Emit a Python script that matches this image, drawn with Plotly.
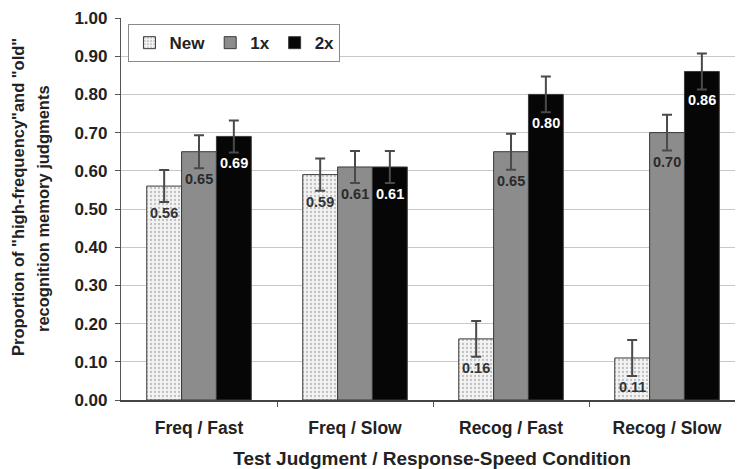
import plotly.graph_objects as go

categories = ["Freq / Fast", "Freq / Slow", "Recog / Fast", "Recog / Slow"]
series_names = ["New", "1x", "2x"]
new_vals = [0.56, 0.59, 0.16, 0.11]
x1_vals = [0.65, 0.61, 0.65, 0.70]
x2_vals = [0.69, 0.61, 0.80, 0.86]
new_err = [0.042, 0.042, 0.047, 0.047]
x1_err = [0.043, 0.042, 0.047, 0.047]
x2_err = [0.042, 0.042, 0.047, 0.047]
y_ticks = [0.0, 0.1, 0.2, 0.3, 0.4, 0.5, 0.6, 0.7, 0.8, 0.9, 1.0]
y_title_lines = ['Proportion of "high-frequency"and "old"', "recognition memory judgments"]
x_title = "Test Judgment / Response-Speed Condition"

FONT = "Liberation Sans, Arial, sans-serif"
TXT = "#222222"
BARGAP = 0.33

values = [new_vals, x1_vals, x2_vals]
errors = [new_err, x1_err, x2_err]
xpos = list(range(len(categories)))

fig = go.Figure()
styles = [
    dict(color="#f3f3f3", pattern=dict(shape=".", fgcolor="#8a8a8a", bgcolor="#f3f3f3", size=4, solidity=0.25)),
    dict(color="#8c8c8c"),
    dict(color="#060606"),
]
for name, vals, errs, st in zip(series_names, values, errors, styles):
    fig.add_trace(go.Bar(
        x=xpos, y=vals, name=name,
        marker=dict(**st, line=dict(color="#3a3a3a", width=1)),
        error_y=dict(type="data", array=errs, visible=True, color="#4a4a4a", thickness=2, width=5),
    ))

bw = (1 - BARGAP) / 3
label_colors = ["#333333", "#2a2a2a", "#ffffff"]
for j, (vals, errs) in enumerate(zip(values, errors)):
    for i, (v, e) in enumerate(zip(vals, errs)):
        fig.add_annotation(
            x=i + (j - 1) * bw, y=v - e, xref="x", yref="y",
            text=f"{v:.2f}", showarrow=False, yanchor="middle", yshift=-11,
            font=dict(family=FONT, size=14.5, color=label_colors[j], weight="bold"),
        )

# two-line y-axis title
for k, (line, xs, ys) in enumerate(zip(y_title_lines, [-103, -78], [12, 0])):
    fig.add_annotation(
        x=0, y=0.5, xref="paper", yref="paper", text=line, showarrow=False,
        textangle=-90, xanchor="center", yanchor="middle", xshift=xs, yshift=ys,
        font=dict(family=FONT, size=16.5, color=TXT, weight="bold"),
    )

fig.update_layout(
    width=735, height=461,
    margin=dict(l=113, r=0, t=10, b=69),
    paper_bgcolor="white", plot_bgcolor="white",
    barmode="group", bargap=BARGAP, bargroupgap=0,
    font=dict(family=FONT, color=TXT),
    showlegend=True,
    legend=dict(
        orientation="h", x=0.012, y=0.984, xanchor="left", yanchor="top",
        bgcolor="white", bordercolor="#8a8a8a", borderwidth=1,
        font=dict(family=FONT, size=17, color=TXT, weight="bold"),
        itemwidth=30,
    ),
)
fig.update_xaxes(
    range=[-0.5, 3.487],
    tickvals=xpos, ticktext=categories, ticks="", ticklabelstandoff=11,
    tickfont=dict(family=FONT, size=17.5, color=TXT, weight="bold"),
    showline=True, linecolor="#444444", linewidth=1.5,
    showgrid=False, zeroline=False,
    minor=dict(tickvals=[0.5, 1.5, 2.5], ticks="outside", ticklen=5, tickcolor="#555555"),
    title=dict(text=x_title, standoff=17,
               font=dict(family=FONT, size=19, color=TXT, weight="bold")),
)
fig.update_yaxes(
    range=[0, 1.0], tickvals=y_ticks, tickformat=".2f",
    ticks="outside", ticklen=5, tickcolor="#555555", ticklabelstandoff=4,
    tickfont=dict(family=FONT, size=17, color=TXT, weight="bold"),
    showline=True, linecolor="#555555", linewidth=1.2,
    showgrid=True, gridcolor="#c8c8c8", gridwidth=1, zeroline=False,
)

fig.write_html("out.html")
